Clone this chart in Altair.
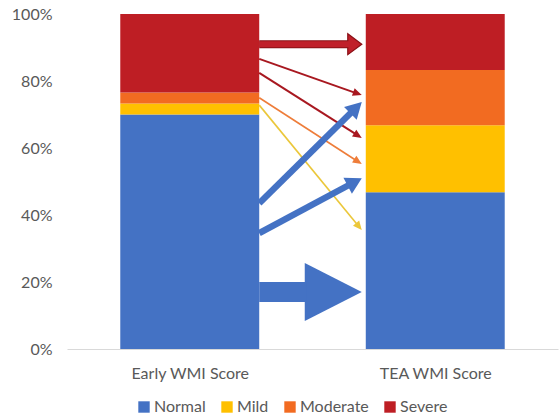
import math
import altair as alt
import pandas as pd

# --- data -------------------------------------------------------------
levels = ["Normal", "Mild", "Moderate", "Severe"]
level_colors = ["#4472C4", "#FFC000", "#F26B21", "#BE1E24"]

groups = ["Early WMI Score", "TEA WMI Score"]
group_pos = [0.5, 1.5]
early_pct = [70.0, 3.3, 3.3, 23.4]
tea_pct = [46.8, 20.0, 16.5, 16.7]

# transitions between the two scores (percent level at each bar)
arrow_from = ["Severe", "Severe", "Severe", "Moderate", "Mild", "Normal", "Normal", "Normal"]
arrow_to = ["Severe", "Moderate", "Mild", "Mild", "Normal", "Moderate", "Mild", "Normal"]
arrow_start = [91.0, 86.6, 82.4, 75.0, 72.8, 43.5, 34.6, 17.0]
arrow_end = [91.0, 75.8, 63.0, 55.2, 35.5, 73.7, 51.0, 17.0]

# --- arrow styling ----------------------------------------------------
shaft_w = [8, 2, 2, 1.6, 1.6, 6.5, 6.5, 20]
head_len = [14, 9, 9, 9, 9, 16, 16, 57]
head_wid = [21, 8, 8, 8, 8, 18, 18, 58]
arrow_fill = ["#C0202A", "#A81820", "#A81820", "#EE7D3A", "#EBC73A",
              "#4472C4", "#4472C4", "#4472C4"]
arrow_edge = ["#8A1016"] + [""] * 7

# --- layout -----------------------------------------------------------
W, H = 491, 335
X_DOMAIN = [0, 2]
BAR_HALF = 0.283
TIP_GAP_PX = 4
px_x = W / (X_DOMAIN[1] - X_DOMAIN[0])
px_y = H / 100.0

# stacked bar segments
rows = []
for g, pos, vals in zip(groups, group_pos, [early_pct, tea_pct]):
    lo = 0.0
    for lev, v in zip(levels, vals):
        rows.append(dict(group=g, level=lev, x0=pos - BAR_HALF, x1=pos + BAR_HALF,
                         lo=lo, hi=lo + v))
        lo += v
bars_df = pd.DataFrame(rows)

# arrow geometry in data space, angles from the pixel scale factors
arows = []
x_start = group_pos[0] + BAR_HALF
x_tip = group_pos[1] - BAR_HALF - TIP_GAP_PX / px_x
for i in range(len(arrow_from)):
    y0, yt = arrow_start[i], arrow_end[i]
    dx = (x_tip - x_start) * px_x
    dy = -(yt - y0) * px_y
    n = math.hypot(dx, dy)
    ux, uy = dx / n, dy / n
    back = head_len[i] - 1.5
    xs = x_tip - ux * back / px_x
    ys = yt + uy * back / px_y
    ang = math.degrees(math.atan2(dx, -dy)) % 360
    hw = head_wid[i] / 2
    shape = f"M0,0 L{hw},{head_len[i]} L{-hw},{head_len[i]} Z"
    edge = arrow_edge[i]
    arows.append(dict(src=arrow_from[i], dst=arrow_to[i],
                      x0=x_start, y0=y0, xs=xs, ys=ys, xt=x_tip, yt=yt,
                      w=shaft_w[i] - (2 if edge else 0),
                      ow=shaft_w[i] if edge else 0,
                      fill=arrow_fill[i], edge=edge or arrow_fill[i],
                      hsw=1.2 if edge else 0,
                      shape=shape, angle=ang))
arrows_df = pd.DataFrame(arows)

FONT = "Lato"
TEXT = "#595959"

xscale = alt.Scale(domain=X_DOMAIN, nice=False, zero=False)
yscale = alt.Scale(domain=[0, 100], nice=False)

label_expr = f"datum.value < 1 ? '{groups[0]}' : '{groups[1]}'"

bars = alt.Chart(bars_df).mark_rect().encode(
    x=alt.X("x0:Q", scale=xscale,
            axis=alt.Axis(values=group_pos, labelExpr=label_expr, title=None,
                          ticks=False, grid=False, domainColor="#D9D9D9",
                          labelFontSize=16, labelColor=TEXT, labelFont=FONT,
                          labelPadding=16)),
    x2="x1:Q",
    y=alt.Y("lo:Q", scale=yscale,
            axis=alt.Axis(values=[0, 20, 40, 60, 80, 100],
                          labelExpr="datum.value + '%'", title=None,
                          ticks=False, grid=False, domain=False,
                          labelFontSize=16, labelColor=TEXT, labelFont=FONT,
                          labelPadding=15)),
    y2="hi:Q",
    color=alt.Color("level:N",
                    scale=alt.Scale(domain=levels, range=level_colors),
                    legend=alt.Legend(title=None, orient="none", direction="horizontal",
                                      legendX=69, legendY=385, symbolType="square",
                                      symbolSize=130, symbolStrokeWidth=0,
                                      labelFontSize=16, labelColor=TEXT, labelFont=FONT,
                                      labelOffset=2, columnPadding=13, padding=0)),
)

base = alt.Chart(arrows_df)

outline = base.transform_filter("datum.ow > 0").mark_rule().encode(
    x=alt.X("x0:Q", scale=xscale), x2="xs:Q",
    y=alt.Y("y0:Q", scale=yscale), y2="ys:Q",
    color=alt.Color("edge:N", scale=None),
    strokeWidth=alt.StrokeWidth("ow:Q", scale=None),
)

heads = base.mark_point(filled=True, opacity=1).encode(
    x=alt.X("xt:Q", scale=xscale),
    y=alt.Y("yt:Q", scale=yscale),
    fill=alt.Fill("fill:N", scale=None),
    stroke=alt.Stroke("edge:N", scale=None),
    strokeWidth=alt.StrokeWidth("hsw:Q", scale=None),
    shape=alt.Shape("shape:N", scale=None),
    angle=alt.Angle("angle:Q", scale=None),
    size=alt.value(4),
)

shafts = base.mark_rule().encode(
    x=alt.X("x0:Q", scale=xscale), x2="xs:Q",
    y=alt.Y("y0:Q", scale=yscale), y2="ys:Q",
    color=alt.Color("fill:N", scale=None),
    strokeWidth=alt.StrokeWidth("w:Q", scale=None),
)

chart = alt.layer(bars, outline, heads, shafts).properties(
    width=W, height=H,
    autosize=alt.AutoSizeParams(type="none"),
    padding={"left": 67, "top": 14, "right": 1, "bottom": 66},
    background="white",
).configure_view(stroke=None)

chart.save("out.html", embed_options={"renderer": "svg", "actions": False})
